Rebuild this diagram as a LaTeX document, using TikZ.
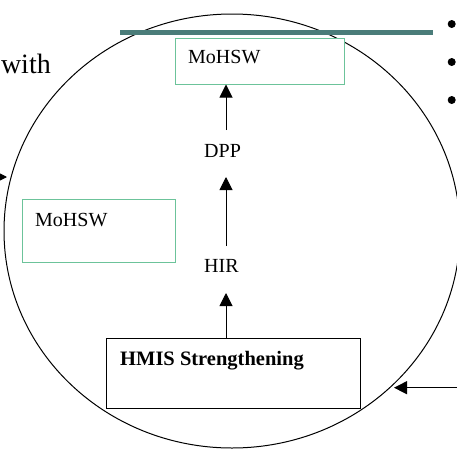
\documentclass[tikz,border=0pt]{standalone}
\usepackage{fontspec}
\setmainfont{Liberation Serif}
\usetikzlibrary{arrows.meta}
\definecolor{tealline}{HTML}{4A7C79}
\definecolor{boxgreen}{HTML}{6CC39A}
\tikzset{
  lbl/.style={anchor=base west, inner sep=0pt, font=\fontsize{20}{24}\selectfont},
  greenbox/.style={draw=boxgreen, line width=1pt, fill=white},
  blackbox/.style={draw=black, line width=1pt, fill=white},
  uparrow/.style={draw=black, line width=1pt, -{Triangle[width=13pt,length=13pt]}},
  dot/.style={circle, fill=black, inner sep=0pt, minimum size=8pt}
}
\begin{document}
\begin{tikzpicture}[x=1pt,y=-1pt]
\useasboundingbox (0,0) rectangle (457,450);
\begin{scope}
\clip (0,0) rectangle (457,450);
% big ellipse
\draw[line width=1pt] (232,231) ellipse [x radius=228, y radius=217];
% teal line
\draw[tealline, line width=5pt] (120,32.7) -- (433,32.7);
% bullets
\node[dot] (b1) at (451.7,24) {};
\node[dot] (b2) at (451.7,62) {};
\node[dot] (b3) at (451.7,100) {};
% "with"
\node[anchor=base east, inner sep=0pt, font=\fontsize{28}{32}\selectfont] (with) at (51,73) {with};
% boxes
\path[greenbox] (175,38) rectangle (344,84);
\node[inner sep=0pt] (topbox) at (259.5,61) {};
\coordinate (topbot) at (226,84.5);
\path[greenbox] (22,199) rectangle (175,262);
\path[blackbox] (106,338) rectangle (360,408);
\coordinate (hmistop) at (226,338);
% texts
\node[lbl] (moh1) at (188,63.5) {MoHSW};
\node[lbl] (dpp) at (204,157) {DPP};
\node[lbl] (moh2) at (35,226) {MoHSW};
\node[lbl] (hir) at (204,272.7) {HIR};
\node[lbl, font=\fontsize{20.5}{24}\selectfont\bfseries] (hmis) at (120,365) {HMIS Strengthening};
% vertical arrows
\coordinate (dpptop) at (226,130);
\coordinate (dppbot) at (226,177);
\coordinate (hirtop) at (226,246);
\coordinate (hirbot) at (226,293);
\draw[uparrow] (dpptop) -- (topbot);
\draw[uparrow] (hirtop) -- (dppbot);
\draw[uparrow] (hmistop) -- (hirbot);
% right arrow
\coordinate (rstart) at (470,387.7);
\coordinate (rend) at (394,387.7);
\draw[uparrow] (rstart) -- (rend);
% left arrow (mostly out of frame)
\coordinate (lstart) at (-30,177);
\coordinate (lend) at (7,177);
\draw[line width=1pt, -{Triangle[width=9pt,length=9pt]}] (lstart) -- (lend);
\end{scope}
\end{tikzpicture}
\end{document}
